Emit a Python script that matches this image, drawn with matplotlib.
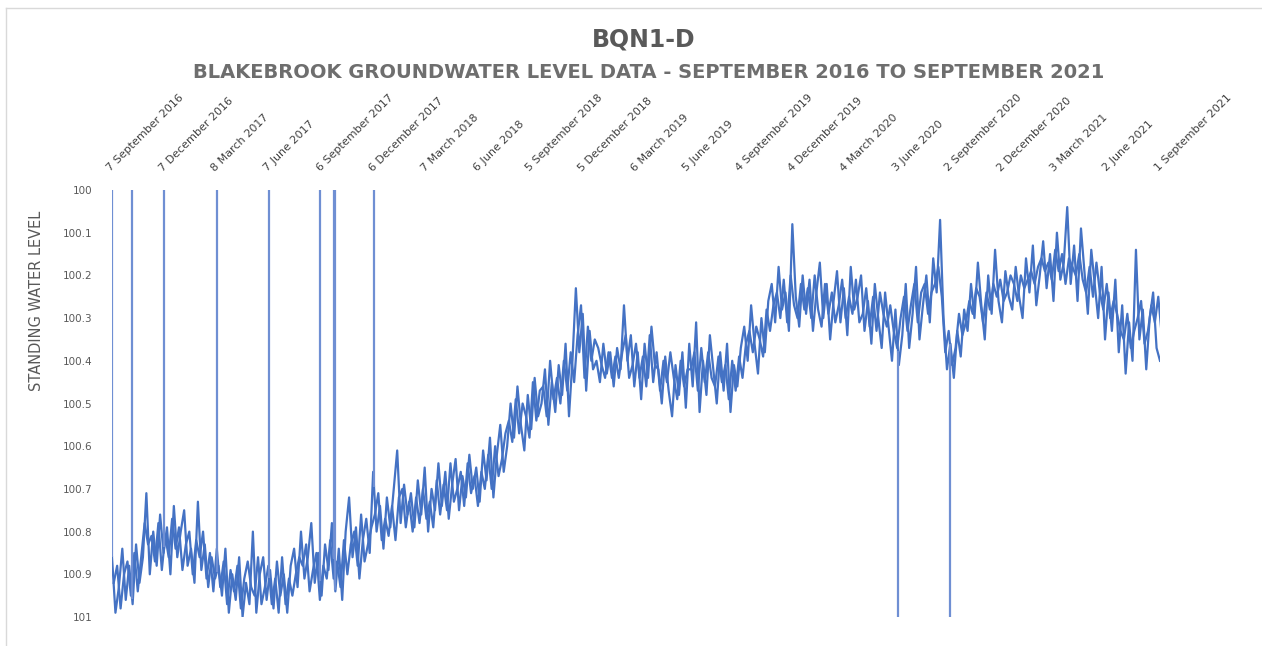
import numpy as np
import pandas as pd
import matplotlib
matplotlib.use("Agg")
import matplotlib.pyplot as plt
import matplotlib.dates as mdates
from matplotlib.lines import Line2D

# standing water level readings (m), every 6 days
levels = [
    100.86, 100.99, 100.93, 100.84,
    100.96, 100.88, 100.97, 100.83, 100.92,
    100.86, 100.71, 100.90,
    100.80, 100.88, 100.76, 100.85, 100.79, 100.90, 100.74, 100.86, 100.80, 100.75, 100.88,
    100.84, 100.92, 100.73, 100.89, 100.83, 100.93, 100.86, 100.91,
    100.88, 100.95, 100.84, 100.99, 100.90, 100.96, 100.86, 101.00, 100.92, 100.97, 100.80, 100.99, 100.90,
    100.86, 100.96, 100.89, 100.98, 100.87, 100.95, 100.90, 100.99, 100.88,
    100.84, 100.93, 100.80, 100.91, 100.86, 100.78, 100.92, 100.85, 100.95, 100.83,
    100.89, 100.78, 100.94, 100.84, 100.96, 100.80, 100.72,
    100.86, 100.79, 100.91, 100.82, 100.77, 100.85,
    100.66, 100.80, 100.74, 100.84, 100.72, 100.79, 100.70, 100.61, 100.78, 100.69, 100.76, 100.71,
    100.79, 100.68, 100.76, 100.65, 100.80, 100.70, 100.75, 100.64,
    100.74, 100.66, 100.77, 100.69, 100.63, 100.75, 100.67, 100.72, 100.62, 100.70, 100.65, 100.73, 100.61,
    100.68, 100.58, 100.72, 100.62, 100.55, 100.66,
    100.60, 100.50, 100.58, 100.46, 100.55, 100.61, 100.48, 100.56, 100.44, 100.53,
    100.50, 100.42, 100.55, 100.45, 100.52, 100.41,
    100.48, 100.36, 100.53, 100.40,
    100.23, 100.38, 100.29, 100.47, 100.33, 100.42,
    100.40, 100.45, 100.36, 100.43, 100.38, 100.46, 100.37, 100.42,
    100.27, 100.40,
    100.34, 100.46, 100.38, 100.49, 100.36, 100.44, 100.32, 100.41,
    100.42, 100.50, 100.39, 100.47, 100.53, 100.41, 100.48, 100.38, 100.51,
    100.36, 100.46, 100.31, 100.52, 100.40, 100.48, 100.34,
    100.42, 100.50, 100.38, 100.47, 100.36, 100.52, 100.41, 100.46, 100.37,
    100.32, 100.40, 100.27, 100.36, 100.43, 100.30, 100.38, 100.26,
    100.22, 100.31, 100.18, 100.28, 100.24, 100.33, 100.08, 100.25, 100.32, 100.20,
    100.29, 100.21, 100.33, 100.24, 100.17, 100.30, 100.22, 100.35, 100.26, 100.19, 100.31, 100.23,
    100.34, 100.18, 100.28, 100.25,
    100.20, 100.33, 100.26, 100.36, 100.22, 100.30, 100.37, 100.24,
    100.32, 100.40, 100.28, 100.41, 100.34, 100.22, 100.37, 100.29, 100.18, 100.35,
    100.27, 100.20, 100.31, 100.16, 100.24, 100.07,
    100.30, 100.42, 100.36, 100.44, 100.33, 100.39, 100.28,
    100.33, 100.22, 100.30, 100.17, 100.27, 100.35, 100.20, 100.29, 100.14, 100.26, 100.31, 100.19, 100.25,
    100.28, 100.18, 100.25, 100.30, 100.16, 100.24, 100.13, 100.27,
    100.20, 100.12, 100.23, 100.15, 100.26, 100.10, 100.21, 100.17,
    100.04, 100.22, 100.13, 100.26, 100.09, 100.19, 100.29, 100.14, 100.22,
    100.30, 100.18, 100.35, 100.24, 100.33, 100.21,
    100.38, 100.27, 100.43, 100.31, 100.40,
    100.14, 100.35, 100.28, 100.42, 100.30, 100.24, 100.37, 100.40,
]
# readings taken three days after each of the above
levels_mid = [
    100.92, 100.88, 100.98, 100.90,
    100.87, 100.95, 100.85, 100.94, 100.86,
    100.78, 100.83, 100.81,
    100.87, 100.78, 100.89, 100.81, 100.86, 100.77, 100.84, 100.79, 100.89, 100.83, 100.80,
    100.90, 100.82, 100.86, 100.80, 100.91, 100.85, 100.94, 100.84,
    100.93, 100.87, 100.97, 100.89, 100.94, 100.88, 100.98, 100.91, 100.87, 100.93, 100.95, 100.86, 100.97,
    100.93, 100.88, 100.97, 100.91, 100.99, 100.86, 100.97, 100.91, 100.95,
    100.90, 100.86, 100.88, 100.83, 100.94, 100.89, 100.85, 100.96, 100.88, 100.91,
    100.82, 100.91, 100.87, 100.93, 100.82, 100.90, 100.83,
    100.80, 100.88, 100.76, 100.87, 100.83, 100.79,
    100.76, 100.71, 100.82, 100.77, 100.81, 100.74, 100.82, 100.72, 100.70, 100.79, 100.73, 100.80,
    100.72, 100.78, 100.70, 100.77, 100.73, 100.79, 100.68, 100.76,
    100.69, 100.75, 100.64, 100.73, 100.70, 100.66, 100.74, 100.64, 100.71, 100.67, 100.74, 100.66, 100.70,
    100.62, 100.70, 100.60, 100.67, 100.63, 100.57,
    100.54, 100.59, 100.49, 100.57, 100.50, 100.53, 100.58, 100.45, 100.54, 100.47,
    100.46, 100.53, 100.40, 100.49, 100.44, 100.50,
    100.40, 100.47, 100.38, 100.45,
    100.34, 100.27, 100.44, 100.32, 100.40, 100.35,
    100.37, 100.41, 100.44, 100.38, 100.44, 100.39, 100.44, 100.38,
    100.34, 100.44,
    100.41, 100.36, 100.44, 100.39, 100.46, 100.34, 100.45, 100.38,
    100.47, 100.40, 100.45, 100.38, 100.44, 100.49, 100.40, 100.46, 100.42,
    100.42, 100.38, 100.47, 100.37, 100.45, 100.38, 100.44,
    100.46, 100.39, 100.45, 100.41, 100.49, 100.40, 100.47, 100.39, 100.44,
    100.36, 100.33, 100.38, 100.32, 100.35, 100.39, 100.28, 100.33,
    100.27, 100.24, 100.30, 100.21, 100.31, 100.20, 100.27, 100.30, 100.22, 100.28,
    100.23, 100.30, 100.20, 100.28, 100.32, 100.22, 100.29, 100.24, 100.31, 100.27, 100.21, 100.30,
    100.25, 100.29, 100.21, 100.31,
    100.29, 100.23, 100.32, 100.25, 100.33, 100.24, 100.29, 100.32,
    100.27, 100.33, 100.37, 100.30, 100.25, 100.33, 100.27, 100.22, 100.31, 100.24,
    100.22, 100.29, 100.24, 100.22, 100.18, 100.25,
    100.38, 100.33, 100.41, 100.37, 100.29, 100.34, 100.31,
    100.26, 100.29, 100.23, 100.25, 100.31, 100.24, 100.28, 100.22, 100.25, 100.21, 100.26, 100.24, 100.20,
    100.22, 100.26, 100.20, 100.23, 100.21, 100.19, 100.22, 100.18,
    100.16, 100.19, 100.17, 100.21, 100.14, 100.19, 100.15, 100.22,
    100.16, 100.18, 100.20, 100.15, 100.21, 100.24, 100.18, 100.25, 100.17,
    100.24, 100.28, 100.22, 100.30, 100.26, 100.29,
    100.33, 100.35, 100.29, 100.37, 100.33,
    100.30, 100.26, 100.36, 100.33, 100.27, 100.31, 100.25, 100.34,
]
start_date = "2016-09-07"
end_date = "2021-09-01"

# bad readings that shoot off the scale
spike_dates = ["2016-09-07", "2016-10-12", "2016-12-07", "2017-03-08", "2017-06-07",
               "2017-09-04", "2017-09-27", "2017-09-30", "2017-12-06",
               "2020-06-03", "2020-09-02"]
spike_ends = [100, 100, 100, 100, 100, 100, 100, 100, 100, 101, 101]

tick_labels = ["7 September 2016", "7 December 2016", "8 March 2017", "7 June 2017",
               "6 September 2017", "6 December 2017", "7 March 2018", "6 June 2018",
               "5 September 2018", "5 December 2018", "6 March 2019", "5 June 2019",
               "4 September 2019", "4 December 2019", "4 March 2020", "3 June 2020",
               "2 September 2020", "2 December 2020", "3 March 2021", "2 June 2021",
               "1 September 2021"]

n = min(len(levels), len(levels_mid))
dates = pd.date_range(start_date, end_date, periods=n)
dates_mid = dates + (dates[1] - dates[0]) / 2
tick_dates = pd.date_range(start_date, periods=len(tick_labels), freq="91D")
spikes = pd.to_datetime(spike_dates)

W, H = 1262, 646
fig = plt.figure(figsize=(W / 100, H / 100), dpi=100)
ax = fig.add_axes([112 / W, 1 - 617 / H, (1160 - 112) / W, (617 - 190) / H])

blue = "#4472C4"
# both sets of readings drawn as crossing traces, as in the dense daily record
ax.plot(dates, levels[:n], color=blue, lw=1.6)
ax.plot(dates_mid, levels_mid[:n], color=blue, lw=1.6)
base = np.interp(mdates.date2num(spikes), mdates.date2num(dates), levels[:n])
ax.vlines(spikes, base, spike_ends, color="#6f8fd3", lw=1.6)

ax.set_ylim(101, 100)
ax.set_xlim(pd.Timestamp(start_date), pd.Timestamp(end_date))
ax.set_yticks(np.round(np.arange(100, 101.01, 0.1), 1))
ax.set_yticklabels(["100", "100.1", "100.2", "100.3", "100.4", "100.5",
                    "100.6", "100.7", "100.8", "100.9", "101"])
ax.xaxis.tick_top()
ax.set_xticks(tick_dates)
ax.set_xticklabels(tick_labels, rotation=45, ha="left", va="bottom",
                   rotation_mode="anchor", fontsize=8, color="#404040")
ax.tick_params(axis="x", length=0, pad=12)
ax.tick_params(axis="y", length=0, pad=14, labelsize=7.5, labelcolor="#595959")
for s in ax.spines.values():
    s.set_visible(False)

ax.set_ylabel("STANDING WATER LEVEL", fontsize=10.5, color="#595959")
ax.yaxis.set_label_coords(-0.065, 0.74)

fig.text(0.51, 1 - 40 / H, "BQN1-D", ha="center", va="center",
         fontsize=17, fontweight="bold", color="#595959")
fig.text(0.514, 1 - 73 / H,
         "BLAKEBROOK GROUNDWATER LEVEL DATA - SEPTEMBER 2016 TO SEPTEMBER 2021",
         ha="center", va="center", fontsize=14, fontweight="bold", color="#6e6e6e")

# chart area frame
fig.add_artist(Line2D([6 / W, 1], [1 - 8 / H, 1 - 8 / H], color="#d9d9d9", lw=1))
fig.add_artist(Line2D([6 / W, 6 / W], [0, 1 - 8 / H], color="#d9d9d9", lw=1))

fig.savefig("out.png", dpi=100)
